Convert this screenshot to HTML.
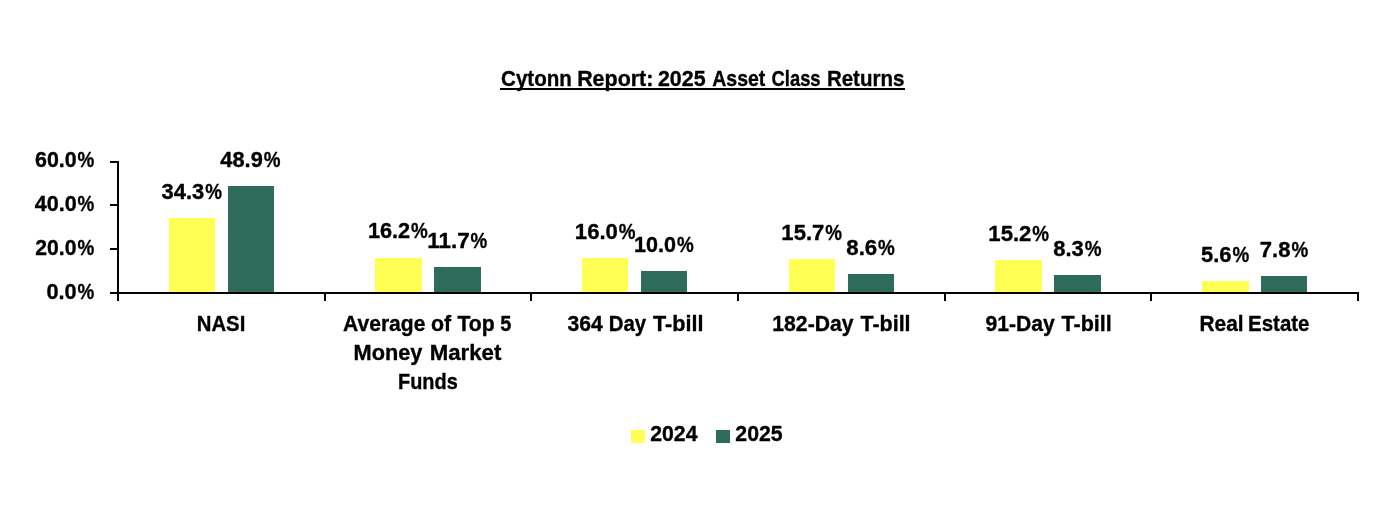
<!DOCTYPE html>
<html lang="en">
<head>
<meta charset="utf-8">
<title>Cytonn Report: 2025 Asset Class Returns</title>
<style>
html,body{margin:0;padding:0;background:#fff;}
body{width:1388px;height:522px;overflow:hidden;}
svg{display:block;}
text{font-family:"Liberation Sans",sans-serif;font-weight:bold;font-size:22.3px;fill:#000;stroke:#000;stroke-width:0.35px;stroke-linejoin:round;}
</style>
</head>
<body>
<svg width="1388" height="522" viewBox="0 0 1388 522">
<rect x="0" y="0" width="1388" height="522" fill="#ffffff"/>
<!-- title -->
<text y="85.70"><tspan x="501.10" textLength="70.81" lengthAdjust="spacingAndGlyphs">Cytonn</tspan> <tspan x="577.15" textLength="76.23" lengthAdjust="spacingAndGlyphs">Report:</tspan> <tspan x="657.98" textLength="47.63" lengthAdjust="spacingAndGlyphs">2025</tspan> <tspan x="712.22" textLength="53.16" lengthAdjust="spacingAndGlyphs">Asset</tspan> <tspan x="771.55" textLength="49.05" lengthAdjust="spacingAndGlyphs">Class</tspan> <tspan x="826.90" textLength="77.50" lengthAdjust="spacingAndGlyphs">Returns</tspan></text>
<rect x="500" y="88" width="405" height="2" fill="#000"/>
<!-- bars -->
<rect x="169" y="218" width="46" height="75" fill="#ffff54"/>
<rect x="228" y="186" width="46" height="107" fill="#2e6b5b"/>
<rect x="375" y="258" width="47" height="35" fill="#ffff54"/>
<rect x="434" y="267" width="47" height="26" fill="#2e6b5b"/>
<rect x="582" y="258" width="46" height="35" fill="#ffff54"/>
<rect x="641" y="271" width="46" height="22" fill="#2e6b5b"/>
<rect x="789" y="259" width="46" height="34" fill="#ffff54"/>
<rect x="848" y="274" width="46" height="19" fill="#2e6b5b"/>
<rect x="995" y="260" width="47" height="33" fill="#ffff54"/>
<rect x="1054" y="275" width="47" height="18" fill="#2e6b5b"/>
<rect x="1202" y="281" width="47" height="12" fill="#ffff54"/>
<rect x="1261" y="276" width="46" height="17" fill="#2e6b5b"/>
<!-- axes -->
<rect x="117" y="161" width="2" height="140" fill="#000"/>
<rect x="110" y="292" width="1249" height="2" fill="#000"/>
<rect x="110" y="161" width="8" height="2" fill="#000"/>
<rect x="110" y="204" width="8" height="2" fill="#000"/>
<rect x="110" y="248" width="8" height="2" fill="#000"/>
<rect x="324" y="293" width="2" height="8" fill="#000"/>
<rect x="530" y="293" width="2" height="8" fill="#000"/>
<rect x="737" y="293" width="2" height="8" fill="#000"/>
<rect x="944" y="293" width="2" height="8" fill="#000"/>
<rect x="1150" y="293" width="2" height="8" fill="#000"/>
<rect x="1357" y="293" width="2" height="8" fill="#000"/>
<!-- labels -->
<text y="167.00"><tspan x="35.00" textLength="41.72" lengthAdjust="spacingAndGlyphs">60.0</tspan><tspan x="77.58" textLength="16.75" lengthAdjust="spacingAndGlyphs">%</tspan></text>
<text y="210.85"><tspan x="34.75" textLength="41.97" lengthAdjust="spacingAndGlyphs">40.0</tspan><tspan x="77.58" textLength="16.75" lengthAdjust="spacingAndGlyphs">%</tspan></text>
<text y="255.10"><tspan x="35.30" textLength="41.20" lengthAdjust="spacingAndGlyphs">20.0</tspan><tspan x="77.38" textLength="16.75" lengthAdjust="spacingAndGlyphs">%</tspan></text>
<text y="299.20"><tspan x="46.48" textLength="30.26" lengthAdjust="spacingAndGlyphs">0.0</tspan><tspan x="77.58" textLength="16.75" lengthAdjust="spacingAndGlyphs">%</tspan></text>
<text y="199.30"><tspan x="161.62" textLength="42.61" lengthAdjust="spacingAndGlyphs">34.3</tspan><tspan x="205.18" textLength="16.75" lengthAdjust="spacingAndGlyphs">%</tspan></text>
<text y="167.20"><tspan x="220.35" textLength="42.49" lengthAdjust="spacingAndGlyphs">48.9</tspan><tspan x="263.68" textLength="16.75" lengthAdjust="spacingAndGlyphs">%</tspan></text>
<text y="238.30"><tspan x="367.88" textLength="42.24" lengthAdjust="spacingAndGlyphs">16.2</tspan><tspan x="410.97" textLength="16.75" lengthAdjust="spacingAndGlyphs">%</tspan></text>
<text y="248.20"><tspan x="427.15" textLength="42.52" lengthAdjust="spacingAndGlyphs">11.7</tspan><tspan x="470.47" textLength="16.75" lengthAdjust="spacingAndGlyphs">%</tspan></text>
<text y="239.30"><tspan x="574.85" textLength="43.02" lengthAdjust="spacingAndGlyphs">16.0</tspan><tspan x="618.67" textLength="16.75" lengthAdjust="spacingAndGlyphs">%</tspan></text>
<text y="252.10"><tspan x="634.05" textLength="42.00" lengthAdjust="spacingAndGlyphs">10.0</tspan><tspan x="676.88" textLength="16.75" lengthAdjust="spacingAndGlyphs">%</tspan></text>
<text y="240.00"><tspan x="781.35" textLength="43.02" lengthAdjust="spacingAndGlyphs">15.7</tspan><tspan x="825.17" textLength="16.75" lengthAdjust="spacingAndGlyphs">%</tspan></text>
<text y="254.90"><tspan x="846.30" textLength="30.91" lengthAdjust="spacingAndGlyphs">8.6</tspan><tspan x="878.12" textLength="16.75" lengthAdjust="spacingAndGlyphs">%</tspan></text>
<text y="241.00"><tspan x="988.35" textLength="43.02" lengthAdjust="spacingAndGlyphs">15.2</tspan><tspan x="1032.17" textLength="16.75" lengthAdjust="spacingAndGlyphs">%</tspan></text>
<text y="255.95"><tspan x="1053.28" textLength="30.53" lengthAdjust="spacingAndGlyphs">8.3</tspan><tspan x="1084.83" textLength="16.75" lengthAdjust="spacingAndGlyphs">%</tspan></text>
<text y="262.10"><tspan x="1201.05" textLength="30.53" lengthAdjust="spacingAndGlyphs">5.6</tspan><tspan x="1232.58" textLength="16.75" lengthAdjust="spacingAndGlyphs">%</tspan></text>
<text y="257.20"><tspan x="1259.85" textLength="30.65" lengthAdjust="spacingAndGlyphs">7.8</tspan><tspan x="1291.42" textLength="16.75" lengthAdjust="spacingAndGlyphs">%</tspan></text>
<text x="196.77" y="330.60" textLength="48.56" lengthAdjust="spacingAndGlyphs">NASI</text>
<text y="330.50"><tspan x="343.12" textLength="82.29" lengthAdjust="spacingAndGlyphs">Average</tspan> <tspan x="431.05" textLength="20.09" lengthAdjust="spacingAndGlyphs">of</tspan> <tspan x="457.40" textLength="37.22" lengthAdjust="spacingAndGlyphs">Top</tspan> <tspan x="500.23" textLength="11.08" lengthAdjust="spacingAndGlyphs">5</tspan></text>
<text y="359.70"><tspan x="353.52" textLength="68.89" lengthAdjust="spacingAndGlyphs">Money</tspan> <tspan x="429.67" textLength="71.72" lengthAdjust="spacingAndGlyphs">Market</tspan></text>
<text x="397.98" y="388.60" textLength="59.74" lengthAdjust="spacingAndGlyphs">Funds</text>
<text y="330.60"><tspan x="567.50" textLength="35.27" lengthAdjust="spacingAndGlyphs">364</tspan> <tspan x="608.85" textLength="37.34" lengthAdjust="spacingAndGlyphs">Day</tspan> <tspan x="653.00" textLength="50.47" lengthAdjust="spacingAndGlyphs">T-bill</tspan></text>
<text y="330.60"><tspan x="772.35" textLength="81.13" lengthAdjust="spacingAndGlyphs">182-Day</tspan> <tspan x="860.52" textLength="50.08" lengthAdjust="spacingAndGlyphs">T-bill</tspan></text>
<text y="330.60"><tspan x="985.42" textLength="69.29" lengthAdjust="spacingAndGlyphs">91-Day</tspan> <tspan x="1061.62" textLength="50.08" lengthAdjust="spacingAndGlyphs">T-bill</tspan></text>
<text y="330.60"><tspan x="1199.50" textLength="44.08" lengthAdjust="spacingAndGlyphs">Real</tspan> <tspan x="1248.05" textLength="61.41" lengthAdjust="spacingAndGlyphs">Estate</tspan></text>
<text x="650.23" y="441.30" textLength="47.27" lengthAdjust="spacingAndGlyphs">2024</text>
<text x="735.30" y="441.30" textLength="47.38" lengthAdjust="spacingAndGlyphs">2025</text>
<!-- legend -->
<rect x="631" y="430" width="14" height="13" fill="#ffff54"/>
<rect x="716" y="430" width="14" height="13" fill="#2e6b5b"/>
</svg>
</body>
</html>
